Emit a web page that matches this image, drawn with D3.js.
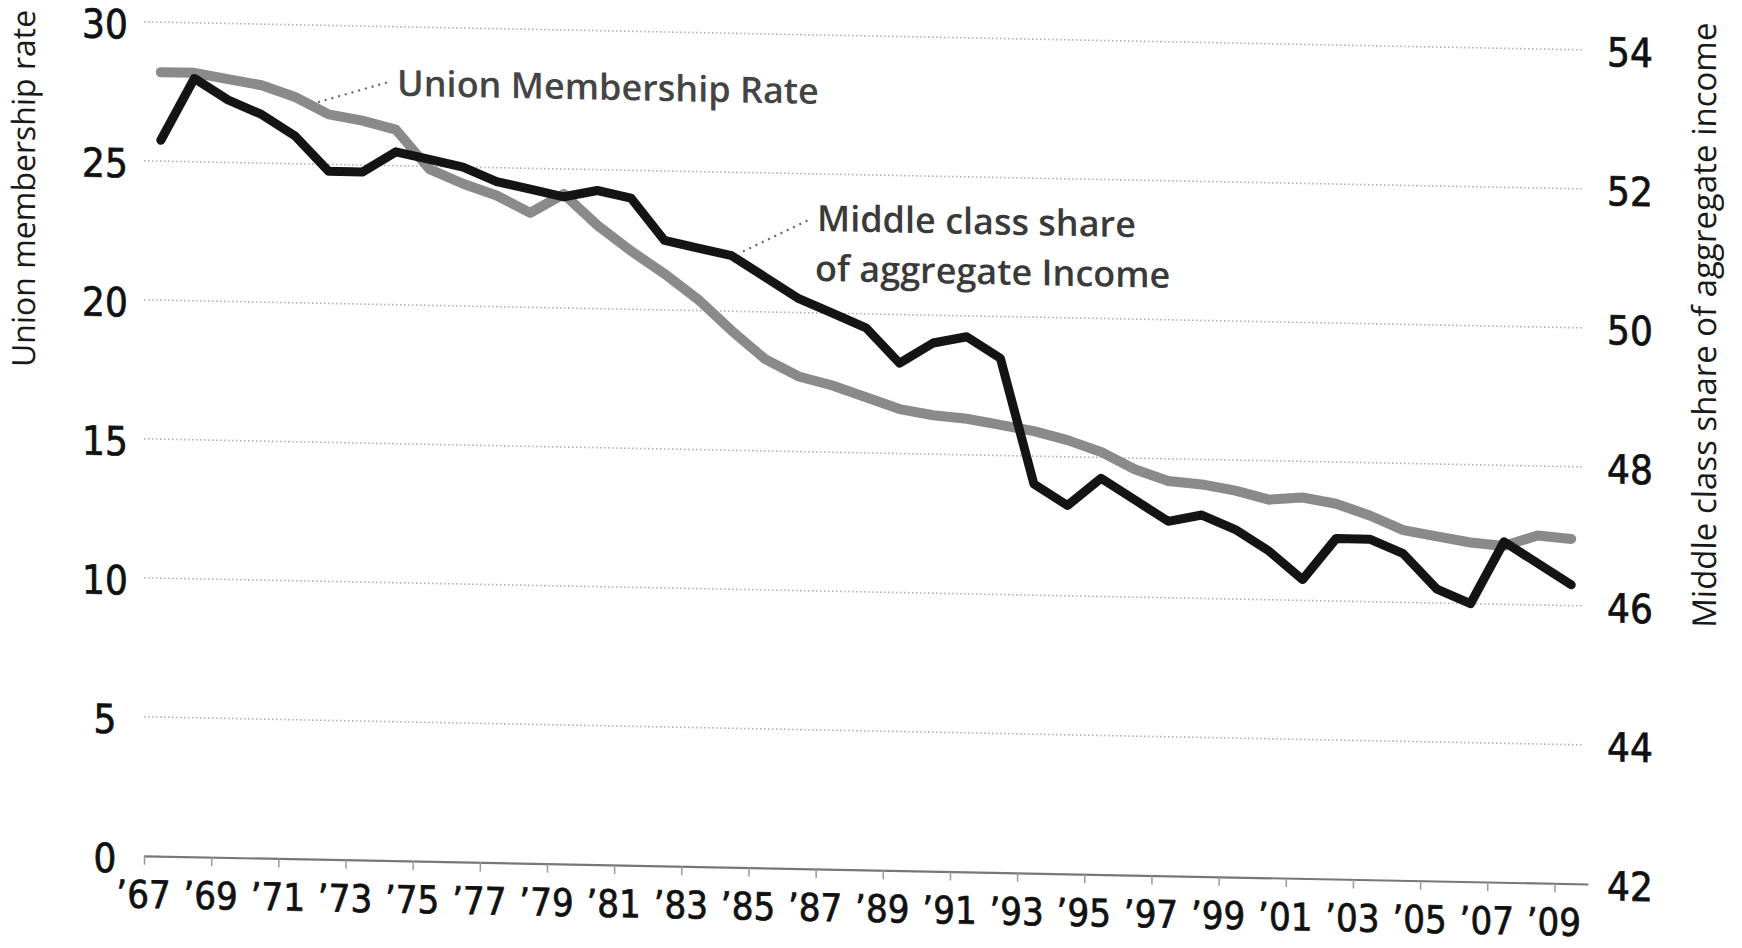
<!DOCTYPE html>
<html>
<head>
<meta charset="utf-8">
<script src="https://cdn.jsdelivr.net/npm/d3@7"></script>
<style>
  body { margin: 0; background: #fff; }
  text { font-family: "Open Sans", "DejaVu Sans", sans-serif; }
  .num { font-family: "Liberation Sans Narrow", "DejaVu Sans Condensed", "Roboto", sans-serif; }
</style>
</head>
<body>
<div id="chart"></div>
<script>
// years on the category axis
var years = [1967, 1968, 1969, 1970, 1971, 1972, 1973, 1974, 1975, 1976,
             1977, 1978, 1979, 1980, 1981, 1982, 1983, 1984, 1985, 1986,
             1987, 1988, 1989, 1990, 1991, 1992, 1993, 1994, 1995, 1996,
             1997, 1998, 1999, 2000, 2001, 2002, 2003, 2004, 2005, 2006,
             2007, 2008, 2009];

// union membership rate, left axis (%)
var unionRate = [28.2, 28.2, 28.0, 27.8, 27.4, 26.8, 26.6, 26.3, 24.9, 24.4,
                 24.0, 23.4, 24.1, 23.0, 22.1, 21.3, 20.4, 19.3, 18.3, 17.7,
                 17.4, 17.0, 16.6, 16.4, 16.3, 16.1, 15.9, 15.6, 15.2, 14.6,
                 14.2, 14.1, 13.9, 13.6, 13.7, 13.5, 13.1, 12.6, 12.4, 12.2,
                 12.1, 12.5, 12.4];

// middle class share of aggregate income, right axis (%)
var middleShare = [52.3, 53.2, 52.9, 52.7, 52.4, 51.9, 51.9, 52.2, 52.1, 52.0,
                   51.8, 51.7, 51.6, 51.7, 51.6, 51.0, 50.9, 50.8, 50.5, 50.2,
                   50.0, 49.8, 49.3, 49.6, 49.7, 49.4, 47.6, 47.3, 47.7, 47.4,
                   47.1, 47.2, 47.0, 46.7, 46.3, 46.9, 46.9, 46.7, 46.2, 46.0,
                   46.9, 46.6, 46.3];

// tick labels
var leftTicks = [0, 5, 10, 15, 20, 25, 30];
var rightTicks = [42, 44, 46, 48, 50, 52, 54];
var labelYears = [1967, 1969, 1971, 1973, 1975, 1977, 1979, 1981, 1983, 1985, 1987,
                  1989, 1991, 1993, 1995, 1997, 1999, 2001, 2003, 2005, 2007, 2009];

var svg = d3.select("#chart").append("svg")
    .attr("width", 1742)
    .attr("height", 948);

svg.append("rect").attr("width", 1742).attr("height", 948).attr("fill", "#fff");

// the scanned page is a little skewed, keep that
var g = svg.append("g").attr("transform", "matrix(1,0.0195,0,1,0,0)");

// categories sit between tick marks
var x = d3.scaleLinear().domain([1967, 2010]).range([144, 1588]);
var yL = d3.scaleLinear().domain([0, 30]).range([853, 19]);
var yR = d3.scaleLinear().domain([42, 54]).range([853, 19]);

// gridlines
g.selectAll(".grid")
    .data(leftTicks.filter(function(d){return d > 0;}))
    .enter().append("line")
    .attr("class", "grid")
    .attr("x1", 144)
    .attr("x2", 1584)
    .attr("y1", function(d){return yL(d);})
    .attr("y2", function(d){return yL(d);})
    .style("stroke", "#b0b0b0")
    .style("stroke-width", 1.6)
    .style("stroke-dasharray", "1.5 2.5");

// bottom axis
var xAxis = d3.axisBottom(x)
    .tickValues(labelYears)
    .tickSize(9)
    .tickSizeOuter(0)
    .tickFormat(function(d){return "\u2019" + String(d).slice(2);});

var ax = g.append("g")
    .attr("transform", "translate(0," + yL(0) + ")")
    .call(xAxis);
ax.select(".domain").style("stroke", "#777").style("stroke-width", 2.2);
ax.selectAll(".tick line").style("stroke", "#999").style("stroke-width", 1.5);
ax.selectAll(".tick text")
    .attr("class", "num")
    .attr("y", 25)
    .attr("dx", -1)
    .style("font-size", "38px")
    .style("fill", "#111")
    .style("stroke", "#111")
    .style("stroke-width", 0.7);

// left tick labels
g.selectAll(".ltick")
    .data(leftTicks).enter()
    .append("text")
    .attr("class", "num")
    .attr("x", 105)
    .attr("y", function(d){return yL(d) + 17;})
    .attr("text-anchor", "middle")
    .style("font-size", "40px")
    .style("fill", "#111")
    .style("stroke", "#111")
    .style("stroke-width", 0.7)
    .text(function(d){return d;});

// right tick labels
g.selectAll(".rtick")
    .data(rightTicks).enter()
    .append("text")
    .attr("class", "num")
    .attr("x", 1630)
    .attr("y", function(d){return yR(d) + 16;})
    .attr("text-anchor", "middle")
    .style("font-size", "40px")
    .style("fill", "#111")
    .style("stroke", "#111")
    .style("stroke-width", 0.7)
    .text(function(d){return d;});

// axis titles
g.append("text")
    .attr("transform", "translate(35,188) rotate(-90)")
    .attr("text-anchor", "middle")
    .style("font-size", "32px")
    .style("fill", "#1a1a1a")
    .text("Union membership rate");

g.append("text")
    .attr("transform", "translate(1716,292) rotate(-90)")
    .attr("text-anchor", "middle")
    .style("font-size", "33px")
    .style("fill", "#1a1a1a")
    .text("Middle class share of aggregate income");

// lines
var unionLine = d3.line()
    .x(function(d, i){return x(years[i] + 0.5);})
    .y(function(d){return yL(d);});

var shareLine = d3.line()
    .x(function(d, i){return x(years[i] + 0.5);})
    .y(function(d){return yR(d);});

g.append("path")
    .datum(unionRate)
    .attr("d", unionLine)
    .style("fill", "none")
    .style("stroke", "#8a8a8a")
    .style("stroke-width", 10)
    .style("stroke-linejoin", "round")
    .style("stroke-linecap", "round");

g.append("path")
    .datum(middleShare)
    .attr("d", shareLine)
    .style("fill", "none")
    .style("stroke", "#141414")
    .style("stroke-width", 9)
    .style("stroke-linejoin", "round")
    .style("stroke-linecap", "round");

// labels with dotted leaders
g.append("line")
    .attr("x1", 318).attr("y1", 96)
    .attr("x2", 390).attr("y2", 74)
    .style("stroke", "#666")
    .style("stroke-width", 2.2)
    .style("stroke-dasharray", "2 5");

g.append("text")
    .attr("x", 397)
    .attr("y", 88)
    .style("font-size", "36px")
    .style("font-weight", 600)
    .style("fill", "#444")
    .text("Union Membership Rate");

g.append("line")
    .attr("x1", 743).attr("y1", 237)
    .attr("x2", 809).attr("y2", 204)
    .style("stroke", "#666")
    .style("stroke-width", 2.2)
    .style("stroke-dasharray", "2 5");

g.append("text")
    .attr("x", 817)
    .attr("y", 215)
    .style("font-size", "36px")
    .style("font-weight", 600)
    .style("fill", "#3a3a3a")
    .text("Middle class share");

g.append("text")
    .attr("x", 815)
    .attr("y", 265)
    .style("font-size", "36px")
    .style("font-weight", 600)
    .style("fill", "#3a3a3a")
    .text("of aggregate Income");
</script>
</body>
</html>
